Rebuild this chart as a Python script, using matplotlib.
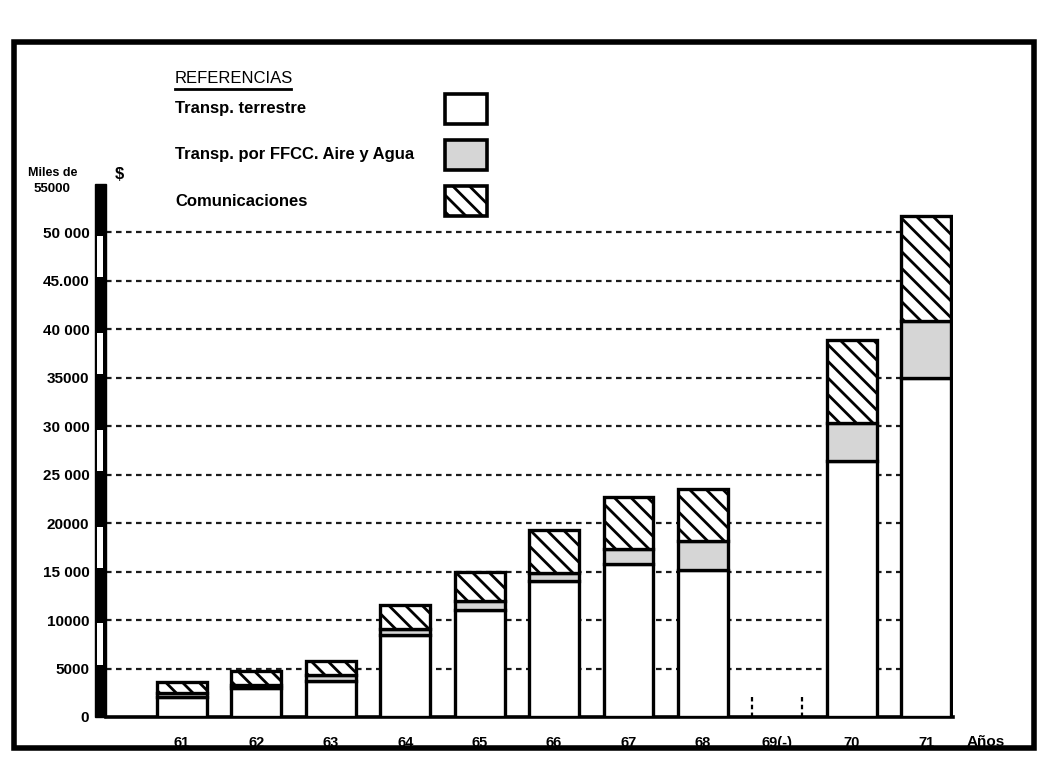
import numpy as np
import matplotlib.pyplot as plt
from matplotlib.patches import Rectangle
import matplotlib.transforms as mtransforms

plt.rcParams["font.family"] = ["Liberation Sans", "DejaVu Sans"]
plt.rcParams["font.weight"] = "bold"
plt.rcParams["hatch.linewidth"] = 2.0

# data (miles de $)
years = ["61", "62", "63", "64", "65", "66", "67", "68", "69(-)", "70", "71"]
terrestre = [2100, 3000, 3700, 8500, 11000, 14000, 15800, 15200, np.nan, 26400, 35000]
ffcc_aire_agua = [400, 300, 600, 600, 1000, 900, 1500, 3000, np.nan, 3900, 5900]
comunicaciones = [1100, 1400, 1500, 2500, 3000, 4400, 5400, 5300, np.nan, 8600, 10800]
ytick_vals = list(range(0, 55001, 5000))
ytick_labels = ["0", "5000", "10000", "15 000", "20000", "25 000", "30 000",
                "35000", "40 000", "45.000", "50 000", ""]
legend_labels = ["Transp. terrestre", "Transp. por FFCC. Aire y Agua", "Comunicaciones"]

grey = "#d6d6d6"
width = 0.67
hatch = "\\\\"

fig = plt.figure(figsize=(10.42, 7.58), dpi=100)
ax = fig.add_axes([0.1017, 0.0541, 0.813, 0.7032])

x = np.arange(len(years))
t = np.array(terrestre)
f = np.array(ffcc_aire_agua)
c = np.array(comunicaciones)
ok = ~np.isnan(t)

# dotted guide lines
ax.hlines(ytick_vals[1:-1], -1.02, 10.36, colors="#1a1a1a", linestyles=(0, (2.5, 2.0)),
          linewidth=1.6, zorder=1)

# stacked bars
ax.bar(x[ok], t[ok], width, color="white", edgecolor="black", linewidth=2.4, zorder=3)
ax.bar(x[ok], f[ok], width, bottom=t[ok], color=grey, edgecolor="black", linewidth=2.4, zorder=3)
ax.bar(x[ok], c[ok], width, bottom=t[ok] + f[ok], color="white", edgecolor="black",
       hatch=hatch, linewidth=2.4, zorder=3)

# missing year marks
for i in x[~ok]:
    ax.vlines([i - width / 2, i + width / 2], 0, 2200, colors="black",
              linestyles=(0, (2, 1.5)), linewidth=1.6, zorder=2)

ax.set_xlim(-1.02, 10.36)
ax.set_ylim(0, 55000)

# axis scale bar (black/white blocks)
trans = mtransforms.blended_transform_factory(ax.transAxes, ax.transData)
ax.add_patch(Rectangle((-0.0135, 0), 0.0135, 55000, transform=trans, facecolor="black",
                       edgecolor="black", clip_on=False, zorder=4))
for lo in range(5000, 55000, 10000):
    ax.add_patch(Rectangle((-0.0100, lo + 350), 0.0065, 5000 - 700, transform=trans,
                           facecolor="white", edgecolor="none", clip_on=False, zorder=5))

ax.set_yticks(ytick_vals)
ax.set_yticklabels(ytick_labels, fontsize=11, fontweight="bold")
ax.set_xticks(x)
ax.set_xticklabels(years, fontsize=10.5, fontweight="bold")
ax.tick_params(axis="y", length=0, pad=12)
ax.tick_params(axis="x", length=0, pad=14)

for s in ["top", "right", "left"]:
    ax.spines[s].set_visible(False)
ax.spines["bottom"].set_linewidth(2.6)

# axis titles
fig.text(0.027, 0.764, "Miles de", fontsize=9, fontweight="bold", va="bottom")
fig.text(0.032, 0.743, "55000", fontsize=9.5, fontweight="bold", va="bottom")
fig.text(0.110, 0.760, "$", fontsize=12, fontweight="bold", va="bottom")
fig.text(0.928, 1 - 742 / 758, "Años", fontsize=11, fontweight="bold", va="center")

# legend
fig.text(0.168, 1 - 83 / 758, "REFERENCIAS", fontsize=12, fontweight="normal", va="baseline")
fig.add_artist(plt.Line2D([0.168, 0.279], [1 - 89 / 758, 1 - 89 / 758], color="black",
                          linewidth=2.0, transform=fig.transFigure))
box_y = [1 - 124 / 758, 1 - 170 / 758, 1 - 216 / 758]
styles = [dict(facecolor="white"), dict(facecolor=grey), dict(facecolor="white", hatch=hatch)]
for lab, y0, st in zip(legend_labels, box_y, styles):
    fig.add_artist(Rectangle((445 / 1042, y0), 42 / 1042, 30 / 758, transform=fig.transFigure,
                             edgecolor="black", linewidth=2.6, **st))
    fig.text(0.168, y0 + 15 / 758, lab, fontsize=12, fontweight="bold", va="center")

# outer frame
fig.add_artist(Rectangle((14 / 1042, 1 - 748 / 758), 1020 / 1042, 706 / 758,
                         transform=fig.transFigure, fill=False, edgecolor="black",
                         linewidth=4.0))

fig.savefig("out.png", dpi=100)
